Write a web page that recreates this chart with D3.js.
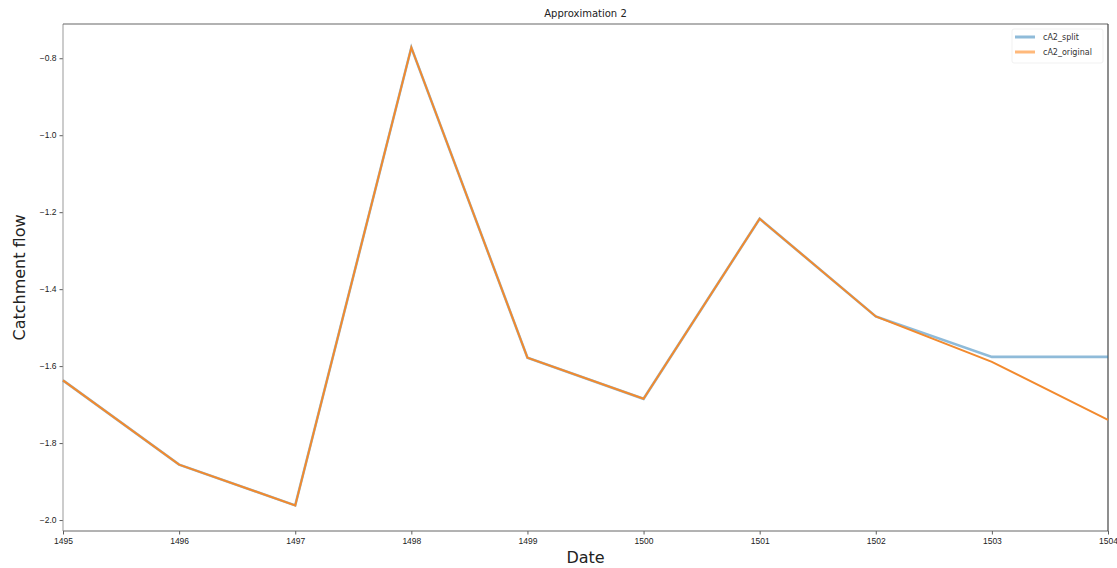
<!DOCTYPE html>
<html>
<head>
<meta charset="utf-8">
<script src="https://cdn.jsdelivr.net/npm/d3@7"></script>
<style>
  html, body { margin: 0; padding: 0; background: #fff; }
  svg { display: block; font-family: "DejaVu Sans", sans-serif; }
</style>
</head>
<body>
<svg id="chart" width="1117" height="568"></svg>
<script>
// Years on the x axis
const years = [1495, 1496, 1497, 1498, 1499, 1500, 1501, 1502, 1503, 1504];
// Approximation coefficients, split reconstruction
const cA2Split = [-1.637, -1.856, -1.962, -0.772, -1.578, -1.685, -1.217, -1.471, -1.576, -1.576];
// Approximation coefficients, original series
const cA2Original = [-1.637, -1.856, -1.962, -0.772, -1.578, -1.685, -1.217, -1.471, -1.589, -1.740];
const yTicks = [-2.0, -1.8, -1.6, -1.4, -1.2, -1.0, -0.8];
const seriesNames = ["cA2_split", "cA2_original"];

const svg = d3.select("#chart");
const plot = { left: 63, right: 1108, top: 24, bottom: 531 };

const x = d3.scaleLinear().domain([1495, 1504]).range([plot.left, plot.right]);
const y = d3.scaleLinear().domain([-2.0285, -0.711]).range([plot.bottom, plot.top]);

const fmt = d => (d < 0 ? "\u2212" : "") + Math.abs(d).toFixed(1);

// Axes
const xAxis = svg.append("g")
  .attr("transform", `translate(0,${plot.bottom})`)
  .call(d3.axisBottom(x).tickValues(years).tickFormat(d3.format("d")).tickSize(3.5).tickPadding(3));
const yAxis = svg.append("g")
  .attr("transform", `translate(${plot.left},0)`)
  .call(d3.axisLeft(y).tickValues(yTicks).tickFormat(fmt).tickSize(3.5).tickPadding(3));

[xAxis, yAxis].forEach(g => {
  g.select(".domain").remove();
  g.selectAll(".tick line").attr("stroke", "#333").attr("stroke-width", 0.8);
  g.selectAll(".tick text").attr("fill", "#222").style("font-size", "8.5px");
});

// Frame
svg.append("line").attr("x1", plot.left).attr("x2", plot.left).attr("y1", plot.top).attr("y2", plot.bottom)
  .attr("stroke", "#999").attr("stroke-width", 1);
svg.append("line").attr("x1", plot.left).attr("x2", plot.right).attr("y1", plot.bottom).attr("y2", plot.bottom)
  .attr("stroke", "#666").attr("stroke-width", 1);
svg.append("line").attr("x1", plot.left).attr("x2", plot.right).attr("y1", plot.top).attr("y2", plot.top)
  .attr("stroke", "#666").attr("stroke-width", 1.2);
svg.append("line").attr("x1", plot.right).attr("x2", plot.right).attr("y1", plot.top).attr("y2", plot.bottom)
  .attr("stroke", "#444").attr("stroke-width", 1.2);

// Lines: split underneath, original on top
const line = d3.line().x((d, i) => x(years[i])).y(d => y(d));

svg.append("path").datum(cA2Split)
  .attr("fill", "none").attr("stroke", "#1f77b4").attr("stroke-opacity", 0.5)
  .attr("stroke-width", 2.6).attr("d", line);
svg.append("path").datum(cA2Original)
  .attr("fill", "none").attr("stroke", "#f28a2e")
  .attr("stroke-width", 2).attr("d", line);

// Title and axis labels
svg.append("text").attr("x", (plot.left + plot.right) / 2).attr("y", 17).attr("text-anchor", "middle")
  .style("font-size", "10px").attr("fill", "#222").text("Approximation 2");
svg.append("text").attr("x", (plot.left + plot.right) / 2).attr("y", 563).attr("text-anchor", "middle")
  .style("font-size", "16px").attr("fill", "#222").text("Date");
svg.append("text").attr("transform", `translate(25,${(plot.top + plot.bottom) / 2}) rotate(-90)`)
  .attr("text-anchor", "middle").style("font-size", "16px").attr("fill", "#222").text("Catchment flow");

// Legend
const lg = svg.append("g").attr("transform", "translate(1012,29)");
lg.append("rect").attr("width", 91).attr("height", 34).attr("rx", 2)
  .attr("fill", "#fff").attr("stroke", "#eee").attr("stroke-width", 0.8);
const legendStyles = [["#1f77b4", 0.5, 3], ["#ff7f0e", 0.55, 3]];
seriesNames.forEach((name, i) => {
  const yy = 8 + i * 15;
  lg.append("line").attr("x1", 3).attr("x2", 23).attr("y1", yy).attr("y2", yy)
    .attr("stroke", legendStyles[i][0]).attr("stroke-opacity", legendStyles[i][1])
    .attr("stroke-width", legendStyles[i][2]);
  lg.append("text").attr("x", 31).attr("y", yy + 3).style("font-size", "8px")
    .attr("fill", "#333").text(name);
});
</script>
</body>
</html>
